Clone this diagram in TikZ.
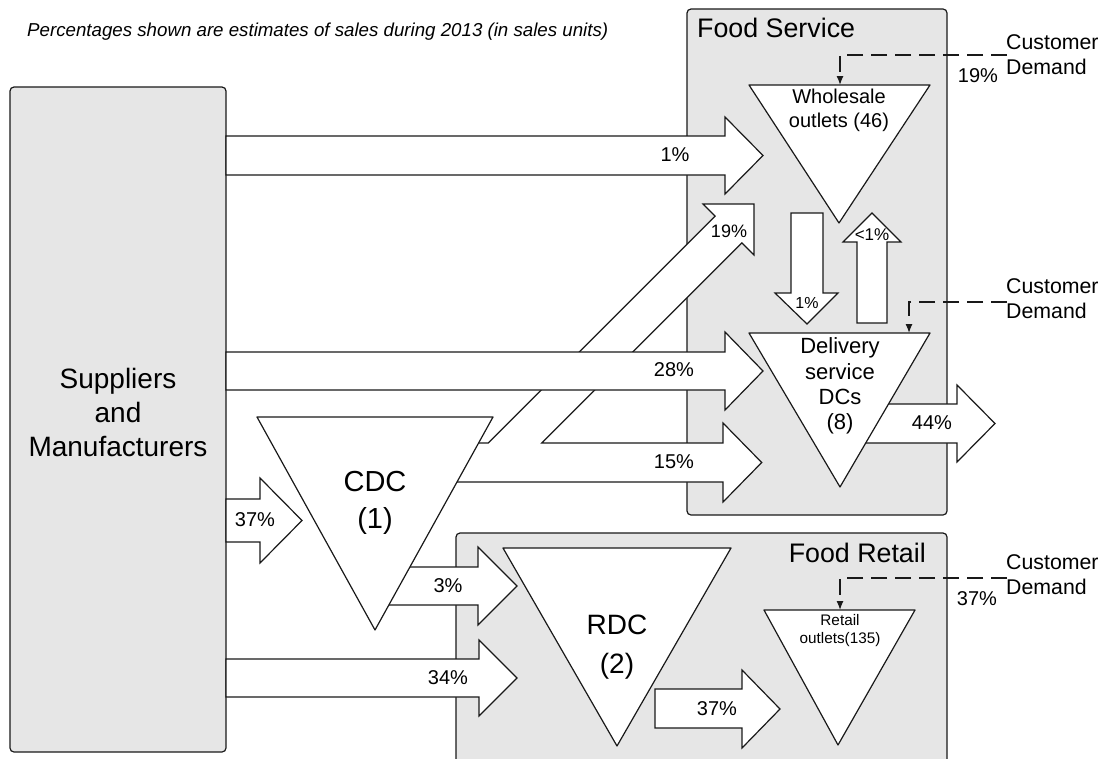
\documentclass[tikz,border=0pt]{standalone}
\usepackage{fontspec}
\setmainfont{Liberation Sans}
\usetikzlibrary{arrows.meta}
\definecolor{panelgray}{RGB}{230,230,230}
\definecolor{ink}{RGB}{25,25,25}
\begin{document}
\begin{tikzpicture}[x=1pt,y=-1pt,
  panel/.style={draw=ink,fill=panelgray,line width=1.2pt,rounded corners=4pt},
  barrow/.style={draw=ink,fill=white,line width=1.2pt,line join=miter},
  tri/.style={draw=ink,fill=white,line width=1.2pt,line join=round},
  lbl/.style={inner sep=0pt,text=black,font=\fontsize{20}{24}\selectfont},
  small/.style={inner sep=0pt,text=black,font=\fontsize{16}{19}\selectfont},
  big/.style={inner sep=0pt,text=black,align=center,font=\fontsize{28}{37}\selectfont},
  title/.style={inner sep=0pt,text=black,font=\fontsize{26.8}{30}\selectfont},
  dem/.style={inner sep=0pt,text=black,align=left,font=\fontsize{21.3}{25}\selectfont},
  demand/.style={draw=ink,line width=1.3pt,dash pattern=on 16pt off 8pt,-{Latex[length=9pt,width=7pt]}},
]
\useasboundingbox (0,0) rectangle (1108,758);
\clip (0,0) rectangle (1108,758);

% panels
\draw[panel] (10,87) rectangle (226,752);
\draw[panel] (687,9) rectangle (947,515);
\draw[panel] (456,533) rectangle (947,775);

% diagonal 19% arrow joined with 15% arrow
\draw[barrow] (470,443) -- (488.2,443) -- (715.1,216.1) -- (703,204) -- (754,204)
  -- (754,255) -- (741.9,242.9) -- (541.8,443) -- (723,443) -- (723,423)
  -- (761.7,462.5) -- (723,502) -- (723,482) -- (440,482) -- cycle;
% 1% arrow
\draw[barrow] (226,136) -- (725,136) -- (725,117) -- (763,155.5) -- (725,194) -- (725,175) -- (226,175) -- cycle;
% 28% arrow
\draw[barrow] (226,352) -- (725,352) -- (725,332) -- (763,371) -- (725,410) -- (725,390) -- (226,390) -- cycle;
% 37% arrow (to CDC)
\draw[barrow] (226,499) -- (260,499) -- (260,478) -- (302,520.5) -- (260,563) -- (260,542) -- (226,542) -- cycle;
% 3% arrow
\draw[barrow] (370,567) -- (478,567) -- (478,547) -- (517,586) -- (478,625) -- (478,605) -- (370,605) -- cycle;
% 34% arrow
\draw[barrow] (226,659) -- (479,659) -- (479,640) -- (517,678) -- (479,716) -- (479,697) -- (226,697) -- cycle;
% 37% arrow (RDC to retail)
\draw[barrow] (655,689) -- (742,689) -- (742,670) -- (780,709) -- (742,748) -- (742,728) -- (655,728) -- cycle;
% 44% arrow
\draw[barrow] (850,404) -- (957,404) -- (957,385) -- (995,423.5) -- (957,462) -- (957,443) -- (850,443) -- cycle;
% 1% down arrow
\draw[barrow] (791,213) -- (823,213) -- (823,293) -- (838,293) -- (807,324) -- (775,293) -- (791,293) -- cycle;
% <1% up arrow
\draw[barrow] (857,323) -- (857,242) -- (843,242) -- (872,213) -- (901,242) -- (887,242) -- (887,323) -- cycle;

% triangles
\draw[tri] (257,417) -- (493,417) -- (375,630) -- cycle;
\draw[tri] (503,548) -- (731,548) -- (617,746) -- cycle;
\draw[tri] (749,85) -- (930,85) -- (839,223) -- cycle;
\draw[tri] (749,333) -- (930,333) -- (840,487) -- cycle;
\draw[tri] (764,610) -- (915,610) -- (838,745) -- cycle;

% texts
\node[inner sep=0pt,anchor=west,font=\fontsize{18.7}{22}\selectfont\itshape] (note) at (27,32)
  {Percentages shown are estimates of sales during 2013 (in sales units)};
\node[big,font=\fontsize{28}{34}\selectfont] (sup) at (118,412) {Suppliers\\and\\Manufacturers};
\node[title,anchor=west] (fs) at (697,28) {Food Service};
\node[title,anchor=east] (fr) at (926,553) {Food Retail};
\node[big,font=\fontsize{29}{37}\selectfont] (cdc) at (375,503) {CDC\\(1)};
\node[big,font=\fontsize{28}{39}\selectfont] (rdc) at (617,647) {RDC\\(2)};
\node[inner sep=0pt,align=center,font=\fontsize{20}{24}\selectfont] (ws) at (839,110) {Wholesale\\outlets (46)};
\node[inner sep=0pt,align=center,font=\fontsize{22}{25.3}\selectfont] (dc) at (840,386) {Delivery\\service\\DCs\\(8)};
\node[inner sep=0pt,align=center,font=\fontsize{15.3}{18}\selectfont] (ro) at (840,631) {Retail\\outlets(135)};

\node[lbl] (p1) at (675,155) {1\%};
\node[lbl] (p28) at (674,370) {28\%};
\node[lbl] (p15) at (674,462) {15\%};
\node[lbl,font=\fontsize{18}{22}\selectfont] (p19d) at (729,231) {19\%};
\node[lbl] (p37a) at (255,520) {37\%};
\node[lbl] (p3) at (448,586) {3\%};
\node[lbl] (p34) at (448,678) {34\%};
\node[lbl] (p37b) at (717,709) {37\%};
\node[lbl] (p44) at (932,423) {44\%};
\node[small] (pd1) at (807,303) {1\%};
\node[small,font=\fontsize{17}{20}\selectfont] (pu1) at (872,235) {<1\%};

% customer demand
\node[dem,anchor=west] (cd1) at (1006,55) {Customer\\Demand};
\node[dem,anchor=west] (cd2) at (1006,298.5) {Customer\\Demand};
\node[dem,anchor=west] (cd3) at (1006,575) {Customer\\Demand};
\node[lbl] (d19) at (978,76) {19\%};
\node[lbl] (d37) at (977,599) {37\%};

\coordinate (cdA) at (1007,55);
\coordinate (cdB) at (1007,302);
\coordinate (cdC) at (1007,578);
\coordinate (wsIn) at (840,85);
\coordinate (dcIn) at (909,333);
\coordinate (roIn) at (840,610);
\draw[demand] (cdA) -| (wsIn);
\draw[demand] (cdB) -| (dcIn);
\draw[demand] (cdC) -| (roIn);
\end{tikzpicture}
\end{document}
